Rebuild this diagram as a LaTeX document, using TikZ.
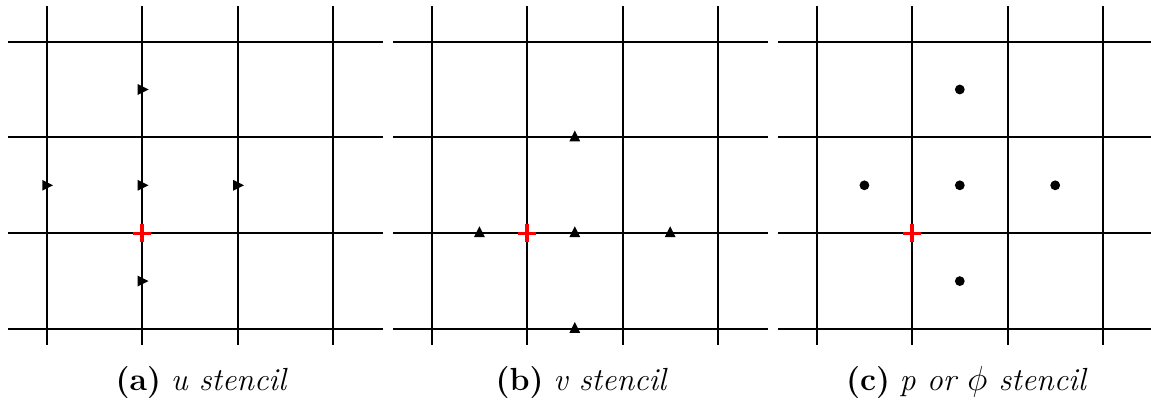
\documentclass[tikz,border=0pt]{standalone}
\begin{document}
\begin{tikzpicture}[x=0.5pt,y=-0.5pt,
  gridline/.style={line width=1pt,black},
  plusmark/.style={line width=1.7pt,red},
  captext/.style={anchor=base,inner sep=0pt,font=\fontsize{16}{19}\selectfont},
  utri/.pic={\fill (-5.4,-5.4) -- (5.4,0) -- (-5.4,5.4) -- cycle;},
  vtri/.pic={\fill (-5.4,5.4) -- (0,-5.4) -- (5.4,5.4) -- cycle;},
  pdot/.pic={\fill (0,0) circle[radius=4.9];},
  redplus/.pic={\draw[plusmark] (-9,0) -- (9,0) (0,-9) -- (0,9);}
]
\useasboundingbox (0,0) rectangle (1151,401);
\def\dx{95.4}
\def\dy{95.8}
\def\ytop{41.6}
% three panels
\foreach \xo/\nm in {46.7/a,431.7/b,816.7/c}{
  \foreach \i in {0,1,2,3}{
    \draw[gridline] (\xo+\i*\dx,6.5) -- (\xo+\i*\dx,345);
    \draw[gridline] (\xo-38.7,\ytop+\i*\dy) -- (\xo+336,\ytop+\i*\dy);
  }
}
% panel a: u stencil
\pic (ua1) at (46.7+\dx+1,\ytop+0.5*\dy) {utri};
\pic (ua2) at (46.7+1,\ytop+1.5*\dy) {utri};
\pic (ua3) at (46.7+\dx+1,\ytop+1.5*\dy) {utri};
\pic (ua4) at (46.7+2*\dx+1,\ytop+1.5*\dy) {utri};
\pic (ua5) at (46.7+\dx+1,\ytop+2.5*\dy) {utri};
\pic (pa) at (46.7+\dx,\ytop+2*\dy) {redplus};
% panel b: v stencil
\pic (vb1) at (431.7+1.5*\dx,\ytop+1*\dy-1.5) {vtri};
\pic (vb2) at (431.7+0.5*\dx,\ytop+2*\dy-1.5) {vtri};
\pic (vb3) at (431.7+1.5*\dx,\ytop+2*\dy-1.5) {vtri};
\pic (vb4) at (431.7+2.5*\dx,\ytop+2*\dy-1.5) {vtri};
\pic (vb5) at (431.7+1.5*\dx,\ytop+3*\dy-1.5) {vtri};
\pic (pb) at (431.7+\dx,\ytop+2*\dy) {redplus};
% panel c: p stencil
\pic (pc1) at (816.7+1.5*\dx,\ytop+0.5*\dy) {pdot};
\pic (pc2) at (816.7+0.5*\dx,\ytop+1.5*\dy) {pdot};
\pic (pc3) at (816.7+1.5*\dx,\ytop+1.5*\dy) {pdot};
\pic (pc4) at (816.7+2.5*\dx,\ytop+1.5*\dy) {pdot};
\pic (pc5) at (816.7+1.5*\dx,\ytop+2.5*\dy) {pdot};
\pic (pcx) at (816.7+\dx,\ytop+2*\dy) {redplus};
% captions
\node[captext] (capa) at (201.7,390) {\textbf{(a)}\ \textit{u stencil}};
\node[captext] (capb) at (581.7,390) {\textbf{(b)}\ \textit{v stencil}};
\node[captext] (capc) at (966.7,390) {\textbf{(c)}\ \textit{p or $\phi$ stencil}};
\end{tikzpicture}
\end{document}
